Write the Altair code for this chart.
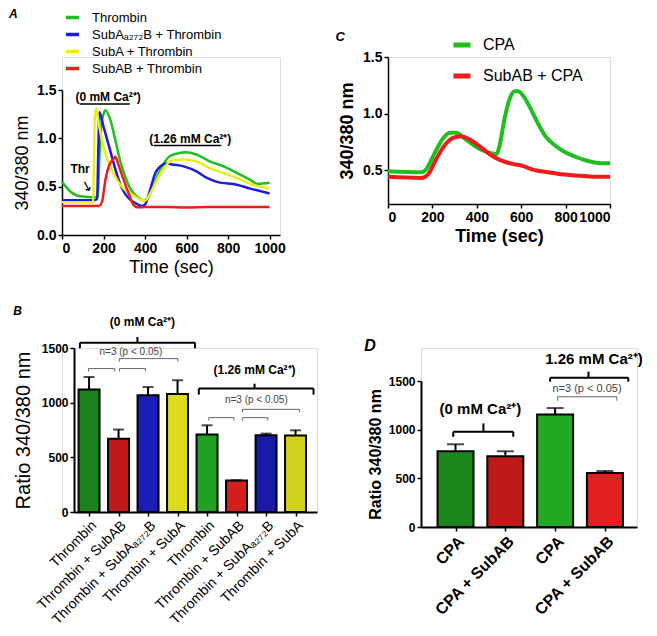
import json
import altair as alt
import pandas as pd

FONT = "Liberation Sans"
GREEN = "#1fbf1f"
BLUE = "#1c1ce0"
YELLOW = "#ecec1c"
RED = "#ee1c1c"

# ---------------- Panel A : time courses ----------------
A_SERIES = ["Thrombin", "SubAₐ₂₇₂B + Thrombin", "SubA + Thrombin", "SubAB + Thrombin"]
A_T_GREEN = [0, 40, 88, 152, 172, 180, 190, 200, 209, 233, 257, 281, 305, 329, 361, 393, 409, 433, 457, 490, 522, 570, 594, 650, 714, 778, 843, 907, 939, 1000]
A_V_GREEN = [0.55, 0.45, 0.40, 0.39, 0.39, 0.80, 1.15, 1.25, 1.29, 1.19, 0.98, 0.76, 0.60, 0.48, 0.40, 0.36, 0.37, 0.47, 0.60, 0.74, 0.82, 0.85, 0.855, 0.83, 0.76, 0.71, 0.64, 0.57, 0.53, 0.54]
A_T_BLUE = [0, 152, 169, 175, 180, 200, 225, 249, 273, 297, 321, 353, 385, 401, 425, 449, 473, 506, 530, 586, 650, 698, 746, 843, 907, 1000]
A_V_BLUE = [0.36, 0.36, 0.37, 0.90, 1.27, 1.12, 0.93, 0.74, 0.57, 0.45, 0.38, 0.33, 0.30, 0.32, 0.47, 0.64, 0.71, 0.74, 0.73, 0.71, 0.655, 0.59, 0.55, 0.52, 0.48, 0.43]
A_T_YELLOW = [0, 150, 158, 165, 177, 200, 233, 265, 297, 345, 385, 401, 425, 457, 490, 530, 586, 650, 714, 778, 843, 907, 1000]
A_V_YELLOW = [0.34, 0.34, 1.20, 1.31, 1.155, 0.91, 0.71, 0.57, 0.48, 0.41, 0.36, 0.355, 0.43, 0.57, 0.69, 0.77, 0.78, 0.76, 0.69, 0.64, 0.59, 0.53, 0.48]
A_T_RED = [0, 177, 193, 209, 225, 249, 257, 273, 297, 321, 345, 361, 400, 500, 600, 700, 800, 900, 1000]
A_V_RED = [0.30, 0.30, 0.345, 0.57, 0.71, 0.79, 0.81, 0.72, 0.57, 0.43, 0.31, 0.286, 0.29, 0.29, 0.285, 0.29, 0.29, 0.29, 0.29]

A_NOTE_TEXT = ["(0 mM Ca²⁺)", "(1.26 mM Ca²⁺)", "Thr"]
A_NOTE_T = [222, 618, 87]
A_NOTE_V = [1.43, 0.995, 0.68]
A_LINE_T1 = [85, 441]
A_LINE_T2 = [326, 767]
A_LINE_V = [1.355, 0.925]
A_ARROW_T = [118]
A_ARROW_V = [0.50]

# ---------------- Panel C : time courses ----------------
C_SERIES = ["CPA", "SubAB + CPA"]
C_T_CPA = [0, 150, 173, 210, 248, 278, 308, 338, 375, 420, 465, 488, 503, 525, 548, 571, 586, 608, 638, 676, 713, 751, 796, 841, 901, 961, 1000]
C_V_CPA = [0.49, 0.48, 0.51, 0.65, 0.78, 0.83, 0.83, 0.79, 0.735, 0.68, 0.65, 0.64, 0.72, 0.956, 1.13, 1.197, 1.197, 1.16, 1.06, 0.91, 0.79, 0.72, 0.66, 0.62, 0.58, 0.56, 0.56]
C_T_SUB = [0, 150, 180, 218, 255, 293, 330, 368, 413, 458, 503, 548, 601, 661, 721, 796, 871, 946, 1000]
C_V_SUB = [0.44, 0.43, 0.46, 0.60, 0.72, 0.785, 0.80, 0.77, 0.71, 0.64, 0.59, 0.56, 0.54, 0.50, 0.48, 0.46, 0.45, 0.44, 0.44]

# ---------------- Panel B : bars ----------------
B_LABELS = ["Thrombin", "Thrombin + SubAB", "Thrombin + SubAₐ₂₇₂B", "Thrombin + SubA",
            "Thrombin", "Thrombin + SubAB", "Thrombin + SubAₐ₂₇₂B", "Thrombin + SubA"]
B_GROUP = ["Thrombin 0", "SubAB 0", "SubA272B 0", "SubA 0", "Thrombin 1", "SubAB 1", "SubA272B 1", "SubA 1"]
B_MEAN = [1120, 671, 1067, 1079, 708, 287, 701, 699]
B_TOP = [1235, 754, 1143, 1205, 793, 290, 717, 747]
B_BRACE_X1 = [0.69, 4.72]
B_BRACE_X2 = [4.59, 8.61]
B_BRACE_XM = [2.64, 6.61]
B_BRACE_Y = [1549, 1129]
B_BRACE_END = [1497, 1074]
B_BRACE_TIP = [1601, 1174]
B_SIG_X1 = [0.98, 2.03, 2.03, 5.06, 6.20, 6.20]
B_SIG_X2 = [1.87, 2.91, 4.01, 5.91, 7.06, 8.13]
B_SIG_Y = [1312, 1312, 1403, 863, 863, 939]
B_SIG_END = [1285, 1285, 1376, 836, 836, 912]
B_HEAD_TEXT = ["(0 mM Ca²⁺)", "(1.26 mM Ca²⁺)"]
B_HEAD_X = [2.81, 6.61]
B_HEAD_Y = [1738, 1296]
B_N_X = [2.42, 6.67]
B_N_Y = [1463, 1022]

# ---------------- Panel D : bars ----------------
D_LABELS = ["CPA", "CPA + SubAB", "CPA", "CPA + SubAB"]
D_GROUP = ["CPA 0", "SubAB 0", "CPA 1", "SubAB 1"]
D_MEAN = [778, 726, 1155, 555]
D_TOP = [850, 778, 1222, 575]
D_BRACE_X1 = [0.954, 2.90]
D_BRACE_X2 = [2.16, 4.47]
D_BRACE_XM = [1.56, 3.67]
D_BRACE_Y = [978, 1534]
D_BRACE_END = [927, 1493]
D_BRACE_TIP = [1065, 1596]
D_SIG_X1 = [3.05]
D_SIG_X2 = [4.24]
D_SIG_Y = [1338]
D_SIG_END = [1297]
D_HEAD_TEXT = ["(0 mM Ca²⁺)", "1.26 mM Ca²⁺)"]
D_HEAD_X = [1.50, 3.78]
D_HEAD_Y = [1212, 1727]
D_N_X = [3.64]
D_N_Y = [1418]

AX = dict(domainColor="black", tickColor="black", labelColor="black", titleColor="black",
          grid=False, labelFont=FONT, titleFont=FONT)


def series_frame(names, ts, vs):
    rows = []
    for name, tt, vv in zip(names, ts, vs):
        for t, v in zip(tt, vv):
            rows.append({"series": name, "t": t, "v": v})
    return pd.DataFrame(rows)


def letter(text, size, dx=0, offset=2):
    return alt.TitleParams(text, anchor="start", font=FONT, fontSize=size, fontWeight="bold",
                           fontStyle="italic", color="black", offset=offset, dx=dx)


# ---- A  (view spans from the top of panel C's plot; the data range sits in its lower part)
dfA = series_frame(A_SERIES, [A_T_GREEN, A_T_BLUE, A_T_YELLOW, A_T_RED],
                   [A_V_GREEN, A_V_BLUE, A_V_YELLOW, A_V_RED])
xA = alt.X("t:Q", scale=alt.Scale(domain=[0, 1050], nice=False, zero=False),
           axis=alt.Axis(values=[0, 200, 400, 600, 800, 1000], format="d", title="Time (sec)", titleFontSize=18,
                         titleFontWeight="normal", labelFontSize=14, labelFontWeight="bold", tickSize=4,
                         domainWidth=1.5, tickWidth=1.5, labelPadding=2, titlePadding=3, **AX))
yA = alt.Y("v:Q", scale=alt.Scale(domain=[0, 1.5], range=[178, 33], nice=False),
           axis=alt.Axis(values=[0, 0.5, 1.0, 1.5], format=".1f", title="340/380 nm", titleFontSize=18,
                         titleFontWeight="normal", labelFontSize=14, labelFontWeight="bold", tickSize=4,
                         domainWidth=1.5, tickWidth=1.5, labelPadding=2, titlePadding=5, **AX))
a_lines = alt.Chart(dfA).mark_line(strokeWidth=2.5, interpolate="monotone").encode(
    x=xA, y=yA,
    color=alt.Color("series:N", scale=alt.Scale(domain=A_SERIES, range=[GREEN, BLUE, YELLOW, RED]),
                    legend=alt.Legend(title="A", titleOrient="left", titleFont=FONT, titleFontSize=12,
                                      titleFontWeight="bold", titleFontStyle="italic", titleColor="black",
                                      titlePadding=46, titleBaseline="top", titleAnchor="start",
                                      orient="none", legendX=-53, legendY=-48, direction="vertical",
                                      symbolType="stroke", symbolStrokeWidth=3.5, symbolSize=169,
                                      labelFontSize=13, labelFont=FONT, labelColor="black",
                                      rowPadding=1, labelOffset=11, padding=0)))
a_notes = alt.Chart(pd.DataFrame({"t": A_NOTE_T, "v": A_NOTE_V, "txt": A_NOTE_TEXT})).mark_text(
    font=FONT, fontSize=12, fontWeight="bold", color="black").encode(x="t:Q", y="v:Q", text="txt:N")
a_under = alt.Chart(pd.DataFrame({"t": A_LINE_T1, "t2": A_LINE_T2, "v": A_LINE_V})).mark_rule(
    color="black", strokeWidth=1.5).encode(x="t:Q", x2="t2:Q", y="v:Q")
a_arrow = alt.Chart(pd.DataFrame({"t": A_ARROW_T, "v": A_ARROW_V})).mark_text(
    text="→", angle=62, fontSize=14, font="DejaVu Sans", color="black").encode(x="t:Q", y="v:Q")
chartA = alt.layer(a_lines, a_notes, a_under, a_arrow).properties(width=218, height=178)

# ---- C
dfC = series_frame(C_SERIES, [C_T_CPA, C_T_SUB], [C_V_CPA, C_V_SUB])
chartC = alt.Chart(dfC).mark_line(strokeWidth=4, interpolate="monotone").encode(
    x=alt.X("t:Q", scale=alt.Scale(domain=[0, 1000], nice=False),
            axis=alt.Axis(values=[0, 200, 400, 600, 800, 1000], format="d", title="Time (sec)", titleFontSize=18,
                          titleFontWeight="bold", labelFontSize=14, labelFontWeight="bold", tickSize=4,
                          domainWidth=1.5, tickWidth=1.5, labelPadding=2, titlePadding=3, **AX)),
    y=alt.Y("v:Q", scale=alt.Scale(domain=[0.2, 1.5], nice=False, zero=False),
            axis=alt.Axis(values=[0.5, 1.0, 1.5], format=".1f", title="340/380 nm", titleFontSize=18,
                          titleFontWeight="bold", labelFontSize=14, labelFontWeight="bold", tickSize=4,
                          domainWidth=1.5, tickWidth=1.5, labelPadding=2, titlePadding=6, **AX)),
    color=alt.Color("series:N", scale=alt.Scale(domain=C_SERIES, range=[GREEN, RED]),
                    legend=alt.Legend(title=None, orient="none", legendX=63, legendY=-23, direction="vertical",
                                      symbolType="stroke", symbolStrokeWidth=5, symbolSize=289,
                                      labelFontSize=16, labelFont=FONT, labelColor="black",
                                      rowPadding=10, labelOffset=10, padding=0)),
).properties(width=222, height=147, title=letter("C", 13, dx=-3, offset=-10))


# ---- bar panels
def bar_panel(labels, groups, means, tops, colors, dom, width, height, xrange, yrange, yoffset,
              bar_size, cap_size, label_size, label_weight, ytitle, ytitle_size, ytitle_weight,
              head_size, n_size, braces, sigs, heads, ns, tpad):
    df = pd.DataFrame({"pos": list(range(1, len(labels) + 1)), "label": labels, "group": groups,
                       "mean": means, "top": tops})
    label_js = json.dumps(labels, ensure_ascii=False)
    xscale = alt.Scale(domain=dom, range=xrange, nice=False, zero=False)
    yscale = alt.Scale(domain=[0, 1500], range=yrange, nice=False)
    xaxis = alt.Axis(values=list(range(1, len(labels) + 1)), labelExpr=f"{label_js}[round(datum.value) - 1]",
                     labelAngle=-45, labelAlign="right", labelBaseline="top", title=None,
                     labelFontSize=label_size, labelFontWeight=label_weight, tickSize=4,
                     domainWidth=2, tickWidth=1.5, labelPadding=2, labelOverlap=False,
                     labelBound=False, labelFlush=False, **AX)
    yaxis = alt.Axis(values=[0, 500, 1000, 1500], format="d", title=ytitle, titleFontSize=ytitle_size,
                     titleFontWeight=ytitle_weight, labelFontSize=12, labelFontWeight="bold",
                     tickSize=4, domainWidth=2, tickWidth=1.5, labelPadding=2, titlePadding=tpad,
                     offset=yoffset, **AX)

    def X(f):
        return alt.X(f, scale=xscale, axis=xaxis)

    def Y(f):
        return alt.Y(f, scale=yscale, axis=yaxis)

    base = alt.Chart(df)
    bars = base.mark_bar(size=bar_size, stroke="black", strokeWidth=2, orient="vertical").encode(
        x=X("pos:Q"), y=Y("mean:Q"),
        color=alt.Color("group:N", scale=alt.Scale(domain=groups, range=colors), legend=None))
    err = base.mark_rule(color="black", strokeWidth=2).encode(x=X("pos:Q"), y=Y("mean:Q"), y2="top:Q")
    cap = base.mark_tick(orient="horizontal", size=cap_size, thickness=2, color="black").encode(
        x=X("pos:Q"), y=Y("top:Q"))

    seg = []
    bx1, bx2, bxm, by, bend, btip = braces
    for a, b, m, yy, e, t in zip(bx1, bx2, bxm, by, bend, btip):
        seg += [(a, b, yy, yy), (a, a, yy, e), (b, b, yy, e), (m, m, yy, t)]
    brace = alt.Chart(pd.DataFrame(seg, columns=["x", "x2", "y", "y2"])).mark_rule(
        color="black", strokeWidth=2).encode(x=X("x:Q"), x2="x2:Q", y=Y("y:Q"), y2="y2:Q")
    seg2 = []
    sx1, sx2, sy, send = sigs
    for a, b, yy, e in zip(sx1, sx2, sy, send):
        seg2 += [(a, b, yy, yy), (a, a, yy, e), (b, b, yy, e)]
    sig = alt.Chart(pd.DataFrame(seg2, columns=["x", "x2", "y", "y2"])).mark_rule(
        color="#666666", strokeWidth=1).encode(x=X("x:Q"), x2="x2:Q", y=Y("y:Q"), y2="y2:Q")
    htxt, hx, hy = heads
    head = alt.Chart(pd.DataFrame({"x": hx, "y": hy, "txt": htxt})).mark_text(
        font=FONT, fontSize=head_size, fontWeight="bold", color="black").encode(
        x=X("x:Q"), y=Y("y:Q"), text="txt:N")
    nx, ny = ns
    ntext = alt.Chart(pd.DataFrame({"x": nx, "y": ny, "txt": ["n=3 (p < 0.05)"] * len(nx)})).mark_text(
        font=FONT, fontSize=n_size, color="#444444").encode(x=X("x:Q"), y=Y("y:Q"), text="txt:N")
    return alt.layer(bars, err, cap, brace, sig, head, ntext).properties(width=width, height=height)


# B: view starts 12 px left of its axis so that its origin lines up with panel A's plot
chartB = bar_panel(B_LABELS, B_GROUP, B_MEAN, B_TOP,
                   ["#1c821c", "#bf1a1a", "#1c1cb8", "#dcdc1e", "#21a021", "#d41e1e", "#1a1aa8", "#d2d21c"],
                   [0.659, 8.558], 255, 164, [12, 255], [164, 0], -12, 21, 11, 14, "normal",
                   "Ratio 340/380 nm", 20, "normal", 12, 10,
                   (B_BRACE_X1, B_BRACE_X2, B_BRACE_XM, B_BRACE_Y, B_BRACE_END, B_BRACE_TIP),
                   (B_SIG_X1, B_SIG_X2, B_SIG_Y, B_SIG_END),
                   (B_HEAD_TEXT, B_HEAD_X, B_HEAD_Y), (B_N_X, B_N_Y), 8).properties(
    title=letter("B", 12, offset=-2))

# D: view starts at the height of panel B's plot top; its data range sits 33 px lower
chartD = bar_panel(D_LABELS, D_GROUP, D_MEAN, D_TOP, ["#1c861c", "#bf1a1a", "#22a822", "#e02020"],
                   [0.407, 4.544], 216, 179, [0, 216], [179, 33], 0, 36, 17, 16, "bold",
                   "Ratio 340/380 nm", 16, "bold", 15, 11,
                   (D_BRACE_X1, D_BRACE_X2, D_BRACE_XM, D_BRACE_Y, D_BRACE_END, D_BRACE_TIP),
                   (D_SIG_X1, D_SIG_X2, D_SIG_Y, D_SIG_END),
                   (D_HEAD_TEXT, D_HEAD_X, D_HEAD_Y), (D_N_X, D_N_Y), 5).properties(
    title=letter("D", 16, dx=-3, offset=-6))

row1 = alt.hconcat(chartA, chartC, spacing=49).resolve_scale(color="independent")
row2 = alt.hconcat(chartB, chartD, spacing=45).resolve_scale(color="independent")
chart = (alt.vconcat(row1, row2, spacing=27)
         .resolve_scale(color="independent")
         .properties(padding=0)
         .configure_view(stroke=None)
         .configure_axis(labelOverlap=False)
         .configure(background="white"))

chart.save("out.html", embed_options={"renderer": "svg", "actions": False})
